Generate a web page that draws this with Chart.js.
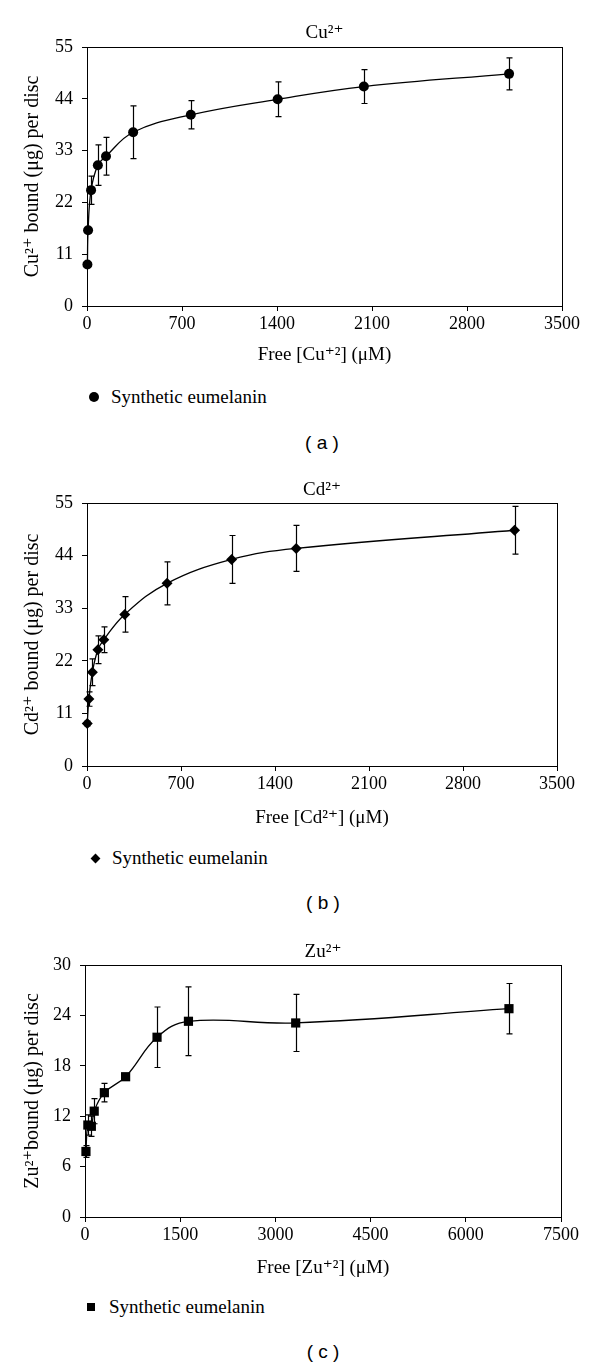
<!DOCTYPE html>
<html>
<head>
<meta charset="utf-8">
<script src="https://cdn.jsdelivr.net/npm/chart.js@4.4.0/dist/chart.umd.min.js"></script>
<style>
  body { margin: 0; background: #fff; }
  #page { position: relative; width: 600px; height: 1367px; overflow: hidden; font-family: 'Liberation Serif', 'DejaVu Serif', serif; color: #000; }
  .panel { position: absolute; left: 0; width: 600px; }
  .legend { position: absolute; font-size: 19px; line-height: 20px; white-space: nowrap; }
  .mk { position: absolute; background: #000; }
  .cap { position: absolute; width: 60px; text-align: center; font-family: 'Liberation Sans', Arial, sans-serif; font-size: 19px; line-height: 22px; }
</style>
</head>
<body>
<div id="page">
  <div class="panel" style="top:0;height:375px"><canvas id="chartA"></canvas></div>
  <div class="mk" style="left:89px;top:392px;width:10px;height:10px;border-radius:50%"></div>
  <div class="legend" style="left:111px;top:387px">Synthetic eumelanin</div>
  <div class="cap" style="left:292px;top:432px">( a )</div>

  <div class="panel" style="top:460px;height:378px"><canvas id="chartB"></canvas></div>
  <div class="mk" style="left:92px;top:855px;width:7px;height:7px;transform:rotate(45deg)"></div>
  <div class="legend" style="left:112px;top:848px">Synthetic eumelanin</div>
  <div class="cap" style="left:293px;top:892px">( b )</div>

  <div class="panel" style="top:920px;height:368px"><canvas id="chartC"></canvas></div>
  <div class="mk" style="left:87px;top:1303px;width:8px;height:8px"></div>
  <div class="legend" style="left:109px;top:1297px">Synthetic eumelanin</div>
  <div class="cap" style="left:293px;top:1341px">( c )</div>
</div>
<script>
// Cu2+ panel
const cuFree = [3, 8, 30, 80, 140, 340, 765, 1405, 2040, 3110];
const cuBound = [8.8, 16.1, 24.6, 29.9, 31.8, 36.9, 40.6, 43.9, 46.6, 49.3];
const cuErr = [0.5, 0.5, 3.0, 4.3, 4.0, 5.6, 3.0, 3.7, 3.6, 3.4];
const cuXTicks = [0, 700, 1400, 2100, 2800, 3500];
const cuYTicks = [0, 11, 22, 33, 44, 55];

// Cd2+ panel
const cdFree = [2, 14, 40, 81, 125, 281, 596, 1077, 1558, 3184];
const cdBound = [8.9, 14.0, 19.6, 24.3, 26.4, 31.7, 38.2, 43.2, 45.5, 49.3];
const cdErr = [0.5, 1.5, 2.8, 2.9, 2.7, 3.7, 4.5, 5.0, 4.8, 5.0];
const cdXTicks = [0, 700, 1400, 2100, 2800, 3500];
const cdYTicks = [0, 11, 22, 33, 44, 55];

// Zu2+ panel
const znFree = [15, 45, 100, 145, 305, 640, 1135, 1630, 3320, 6680];
const znBound = [7.8, 10.95, 10.8, 12.6, 14.8, 16.7, 21.4, 23.3, 23.1, 24.8];
const znErr = [0.7, 1.2, 1.2, 1.5, 1.1, 0.3, 3.6, 4.1, 3.4, 3.0];
const znXTicks = [0, 1500, 3000, 4500, 6000, 7500];
const znYTicks = [0, 6, 12, 18, 24, 30];

const SERIF = "'Liberation Serif', 'DejaVu Serif', serif";

// error bars, drawn with the chart's own scales
const errorBars = {
    id: 'errorBars',
    afterDatasetsDraw(chart, args, opts) {
        const { ctx, scales: { x, y } } = chart;
        const errs = opts.errors || [];
        ctx.save();
        ctx.strokeStyle = '#000';
        ctx.lineWidth = 1.2;
        chart.data.datasets[0].data.forEach((p, i) => {
            const e = errs[i];
            if (!e) return;
            const px = Math.round(x.getPixelForValue(p.x)) + 0.5;
            const top = y.getPixelForValue(p.y + e);
            const bot = y.getPixelForValue(p.y - e);
            ctx.beginPath();
            ctx.moveTo(px, top); ctx.lineTo(px, bot);
            ctx.moveTo(px - 3, top); ctx.lineTo(px + 3, top);
            ctx.moveTo(px - 3, bot); ctx.lineTo(px + 3, bot);
            ctx.stroke();
        });
        ctx.restore();
    }
};

// closed box around the plot area
const frame = {
    id: 'frame',
    beforeDatasetsDraw(chart) {
        const { ctx, chartArea: a } = chart;
        ctx.save();
        ctx.strokeStyle = '#000';
        ctx.lineWidth = 1;
        const l = Math.round(a.left), t = Math.round(a.top), r = Math.round(a.right), b = Math.round(a.bottom);
        ctx.strokeRect(l + 0.5, t + 0.5, r - l, b - t);
        ctx.restore();
    }
};

function buildChart(id, o) {
    const tickSize = 18, titleSize = 19, xtSize = 19, ytSize = 20;
    const tlh = titleSize * 1.2, xlh = xtSize * 1.2, ylh = ytSize * 1.2;
    return new Chart(document.getElementById(id), {
        type: 'scatter',
        data: {
            datasets: [{
                label: 'Synthetic eumelanin',
                data: o.xs.map((v, i) => ({ x: v, y: o.ys[i] })),
                showLine: true,
                tension: 0.4,
                borderColor: '#000',
                borderWidth: 1.3,
                pointStyle: o.pointStyle,
                pointRadius: o.radius,
                pointBackgroundColor: '#000',
                pointBorderColor: '#000',
                pointBorderWidth: 0,
                clip: false
            }]
        },
        options: {
            responsive: true,
            maintainAspectRatio: false,
            animation: false,
            layout: { padding: { left: 0, right: 600 - o.right, top: 0, bottom: 0 } },
            plugins: {
                legend: { display: false },
                tooltip: { enabled: false },
                title: {
                    display: true,
                    text: o.title,
                    fullSize: false,
                    color: '#000',
                    font: { family: SERIF, size: titleSize, weight: 'normal' },
                    padding: { top: o.titleMid - tlh / 2, bottom: o.top - o.titleMid - tlh / 2 }
                },
                errorBars: { errors: o.errs }
            },
            scales: {
                x: {
                    type: 'linear',
                    min: o.xTicks[0],
                    max: o.xTicks[o.xTicks.length - 1],
                    afterBuildTicks: s => { s.ticks = o.xTicks.map(v => ({ value: v })); },
                    afterFit: s => { s.height = o.height - o.bottom; },
                    grid: { drawOnChartArea: false, drawTicks: true, tickLength: 5, color: '#000' },
                    border: { display: true, color: '#000', width: 1 },
                    ticks: { color: '#000', padding: 2, maxRotation: 0, callback: v => String(v), font: { family: SERIF, size: tickSize } },
                    title: {
                        display: true,
                        text: o.xTitle,
                        color: '#000',
                        font: { family: SERIF, size: xtSize },
                        padding: { top: 0, bottom: o.height - o.xTitleMid - xlh / 2 }
                    }
                },
                y: {
                    type: 'linear',
                    min: o.yTicks[0],
                    max: o.yTicks[o.yTicks.length - 1],
                    afterBuildTicks: s => { s.ticks = o.yTicks.map(v => ({ value: v })); },
                    afterFit: s => { s.width = o.left; },
                    grid: { drawOnChartArea: false, drawTicks: true, tickLength: 5, color: '#000' },
                    border: { display: true, color: '#000', width: 1 },
                    ticks: { color: '#000', padding: 9, callback: v => String(v), font: { family: SERIF, size: tickSize } },
                    title: {
                        display: true,
                        text: o.yTitle,
                        color: '#000',
                        font: { family: SERIF, size: ytSize },
                        padding: { top: 33 - ylh / 2, bottom: 0 }
                    }
                }
            }
        },
        plugins: [frame, errorBars]
    });
}

// positions below are relative to each panel's canvas
buildChart('chartA', {
    xs: cuFree, ys: cuBound, errs: cuErr, xTicks: cuXTicks, yTicks: cuYTicks,
    title: 'Cu²⁺', xTitle: 'Free [Cu⁺²] (μM)', yTitle: 'Cu²⁺ bound (μg) per disc',
    pointStyle: 'circle', radius: 5,
    height: 375, left: 87, right: 562, top: 47, bottom: 306, titleMid: 33, xTitleMid: 355
});

buildChart('chartB', {
    xs: cdFree, ys: cdBound, errs: cdErr, xTicks: cdXTicks, yTicks: cdYTicks,
    title: 'Cd²⁺', xTitle: 'Free [Cd²⁺] (μM)', yTitle: 'Cd²⁺ bound (μg) per disc',
    pointStyle: 'rectRot', radius: 5.5,
    height: 378, left: 87, right: 557, top: 43, bottom: 306, titleMid: 30, xTitleMid: 358
});

buildChart('chartC', {
    xs: znFree, ys: znBound, errs: znErr, xTicks: znXTicks, yTicks: znYTicks,
    title: 'Zu²⁺', xTitle: 'Free [Zu⁺²] (μM)', yTitle: 'Zu²⁺bound (μg) per disc',
    pointStyle: 'rect', radius: 6.5,
    height: 368, left: 85, right: 561, top: 45, bottom: 297, titleMid: 32, xTitleMid: 348
});
</script>
</body>
</html>
